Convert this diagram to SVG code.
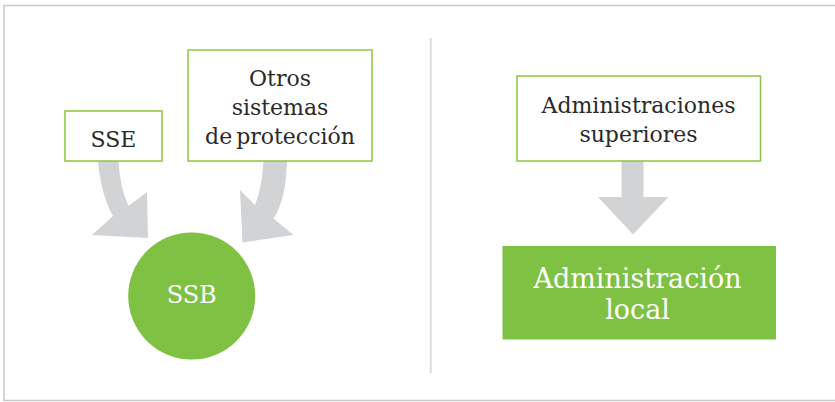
<svg xmlns="http://www.w3.org/2000/svg" width="835" height="402" viewBox="0 0 835 402">
  <style>
    .frame { fill: #ffffff; stroke: #c9c9c9; stroke-width: 1.5; }
    .divider { stroke: #dcdcdc; stroke-width: 2; }
    .box { fill: #ffffff; stroke: #8cc63f; stroke-width: 1.5; }
    .solid { fill: #7fc143; }
    .arrow { fill: #d1d3d4; }
    .label { font-family: "DejaVu Serif", "Liberation Serif", serif; font-size: 22px; fill: #2a2a2a; text-anchor: middle; }
    .inv { font-family: "DejaVu Serif", "Liberation Serif", serif; fill: #ffffff; text-anchor: middle; }
  </style>

  <!-- outer frame and divider between the two halves -->
  <rect class="frame" x="4" y="5.5" width="840" height="395"/>
  <line class="divider" x1="430.7" y1="38" x2="430.7" y2="373"/>

  <!-- connectors -->
  <g id="connectors">
    <!-- SSE to SSB -->
    <path class="arrow" d="M98,161 L118.5,161 Q120,188 128.5,206 L147,192 L148,238 L92,235 L113,216 Q101,195 98,161 Z"/>
    <!-- Otros sistemas to SSB -->
    <path class="arrow" d="M263.5,161 L287,161 Q286,200 273.5,218.5 L293.5,235 L242.5,242.5 L240,190 L255,205 Q262,188 263.5,161 Z"/>
    <!-- Administraciones superiores to Administracion local -->
    <path class="arrow" d="M621.5,161 L643.5,161 L643.5,197 L668.5,197 L633,234.5 L598,197 L621.5,197 Z"/>
  </g>

  <g id="node-sse">
    <rect class="box" x="65" y="111" width="97" height="50"/>
    <text class="label" x="113.5" y="147">SSE</text>
  </g>

  <g id="node-otros">
    <rect class="box" x="188" y="50" width="184" height="111"/>
    <text class="label" x="280" y="86">Otros</text>
    <text class="label" x="280" y="115">sistemas</text>
    <text class="label" x="280" y="143.5" word-spacing="-3">de protección</text>
  </g>

  <g id="node-ssb">
    <circle class="solid" cx="191.7" cy="296" r="63.5"/>
    <text class="inv" x="191.7" y="303" font-size="24">SSB</text>
  </g>

  <g id="node-superiores">
    <rect class="box" x="517" y="76" width="243.5" height="85"/>
    <text class="label" x="638.5" y="113">Administraciones</text>
    <text class="label" x="638.5" y="141.7">superiores</text>
  </g>

  <g id="node-local">
    <rect class="solid" x="502.5" y="246" width="273.5" height="93.5"/>
    <text class="inv" x="637.5" y="288" font-size="27">Administración</text>
    <text class="inv" x="637.5" y="318.5" font-size="27">local</text>
  </g>
</svg>
